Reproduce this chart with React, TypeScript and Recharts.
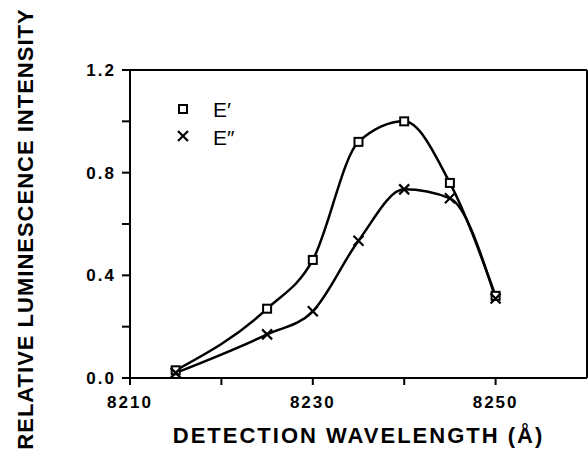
import { Label, Line, LineChart, ReferenceLine, XAxis, YAxis } from "recharts";

const wavelengths = [8215, 8225, 8230, 8235, 8240, 8245, 8250];
const ePrime = [0.03, 0.27, 0.46, 0.92, 1.0, 0.76, 0.32];
const eDoublePrime = [0.02, 0.17, 0.26, 0.535, 0.735, 0.7, 0.31];
const xTicks = [8210, 8220, 8230, 8240, 8250];
const yTicks = [0, 0.2, 0.4, 0.6, 0.8, 1.0, 1.2];

const font = "'Liberation Sans', Arial, Helvetica, sans-serif";

const data = wavelengths.map((x, i) => ({ x, e1: ePrime[i], e2: eDoublePrime[i] }));

function SquareMark({ cx, cy }: { cx: number; cy: number }) {
  return <rect x={cx - 4} y={cy - 4} width={8} height={8} fill="#fff" stroke="#000" strokeWidth={2} />;
}

function CrossMark({ cx, cy }: { cx: number; cy: number }) {
  return (
    <g stroke="#000" strokeWidth={2.2}>
      <line x1={cx - 5} y1={cy - 5} x2={cx + 5} y2={cy + 5} />
      <line x1={cx - 5} y1={cy + 5} x2={cx + 5} y2={cy - 5} />
    </g>
  );
}

// legend sits inside the plot, top-left
function LegendBox() {
  return (
    <svg width={80} height={60} style={{ position: "absolute", left: 171, top: 95 }}>
      <SquareMark cx={12} cy={14} />
      <text x={42} y={22} fontSize={21} fontFamily={font}>E′</text>
      <CrossMark cx={12} cy={41} />
      <text x={42} y={50} fontSize={21} fontFamily={font}>E″</text>
    </svg>
  );
}

const tickStyle = { fill: "#000", fontSize: 17, fontWeight: 700, fontFamily: font, letterSpacing: 2 };

export default function App() {
  return (
    <div style={{ position: "absolute", left: 0, top: 0, width: 588, height: 450, background: "#fff" }}>
      <LineChart width={588} height={450} data={data} margin={{ top: 70, right: 1, bottom: 0, left: 0 }}>
        <XAxis
          dataKey="x"
          type="number"
          domain={[8210, 8260]}
          ticks={xTicks}
          tickFormatter={(v, i) => (i % 2 === 0 ? String(v) : "")}
          tick={tickStyle}
          tickSize={7}
          tickMargin={11}
          height={72}
          stroke="#000"
          strokeWidth={2}
        >
          <Label
            value="DETECTION WAVELENGTH (Å)"
            position="insideBottom"
            offset={7}
            style={{ fill: "#000", fontSize: 22, fontWeight: 700, fontFamily: font, letterSpacing: 2 }}
          />
        </XAxis>
        <YAxis
          type="number"
          domain={[0, 1.2]}
          ticks={yTicks}
          tickFormatter={(v, i) => (i % 2 === 0 ? Number(v).toFixed(1) : "")}
          tick={tickStyle}
          tickSize={8}
          tickMargin={6}
          width={130}
          stroke="#000"
          strokeWidth={2}
        >
          <Label
            content={() => (
              <text
                transform="translate(25,229) rotate(-90)"
                textAnchor="middle"
                dominantBaseline="central"
                fontSize={22}
                fontWeight={700}
                fontFamily={font}
                letterSpacing={1}
                fill="#000"
              >
                RELATIVE LUMINESCENCE INTENSITY
              </text>
            )}
          />
        </YAxis>
        <ReferenceLine y={1.2} stroke="#000" strokeWidth={2} />
        <ReferenceLine x={8260} stroke="#000" strokeWidth={2} />
        <Line
          dataKey="e1"
          type="monotone"
          stroke="#000"
          strokeWidth={2.5}
          isAnimationActive={false}
          dot={(p: any) => <SquareMark key={`s${p.index}`} cx={p.cx} cy={p.cy} />}
        />
        <Line
          dataKey="e2"
          type="monotone"
          stroke="#000"
          strokeWidth={2.5}
          isAnimationActive={false}
          dot={(p: any) => <CrossMark key={`c${p.index}`} cx={p.cx} cy={p.cy} />}
        />
      </LineChart>
      <LegendBox />
    </div>
  );
}
